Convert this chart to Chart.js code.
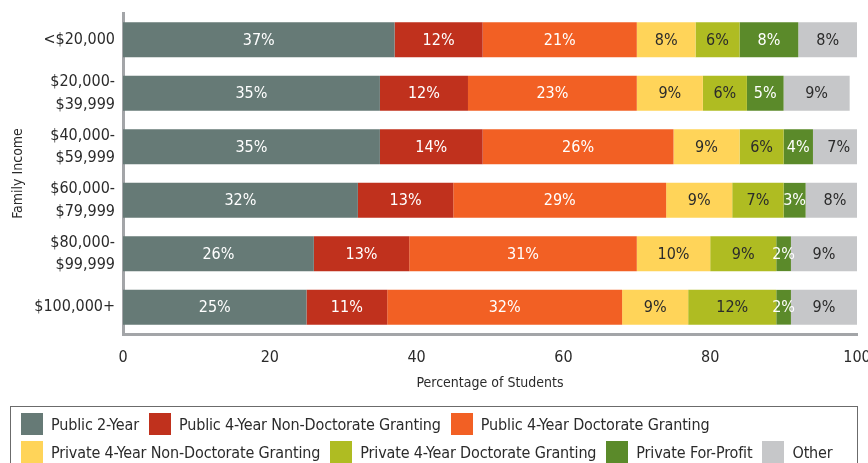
<!DOCTYPE html>
<html>
<head>
<meta charset="utf-8">
<script src="https://cdn.jsdelivr.net/npm/chart.js@4"></script>
<style>
  html, body { margin: 0; padding: 0; background: #fff; }
  #wrap { position: relative; width: 868px; height: 463px; overflow: hidden; }
  #legend {
    position: absolute;
    left: 10px;
    top: 406px;
    width: 848px;
    height: 80px;
    box-sizing: border-box;
    border: 1.5px solid #6b6b6b;
    padding: 6px 0 0 10px;
    display: flex;
    flex-wrap: wrap;
    align-content: flex-start;
    column-gap: 10px;
    row-gap: 6px;
    font-family: 'Liberation Sans Narrow', 'DejaVu Sans Condensed', 'Roboto', sans-serif;
    font-size: 16px;
    letter-spacing: -0.15px;
    color: #2b2b2b;
  }
  .item { display: flex; align-items: center; height: 22px; white-space: nowrap; }
  .swatch { width: 22px; height: 22px; margin-right: 8px; }
</style>
</head>
<body>
<div id="wrap">
  <canvas id="income-chart" width="868" height="463"></canvas>
  <div id="legend"></div>
</div>
<script>
// Income brackets (top to bottom) and x-axis ticks
const incomeLabels = [
  "<$20,000",
  ["$20,000-", "$39,999"],
  ["$40,000-", "$59,999"],
  ["$60,000-", "$79,999"],
  ["$80,000-", "$99,999"],
  "$100,000+"
];
const xTicks = [0, 20, 40, 60, 80, 100];

// Share of students (%) by sector
const public2Year = [37, 35, 35, 32, 26, 25];
const public4NonDoc = [12, 12, 14, 13, 13, 11];
const public4Doc = [21, 23, 26, 29, 31, 32];
const private4NonDoc = [8, 9, 9, 9, 10, 9];
const private4Doc = [6, 6, 6, 7, 9, 12];
const privateForProfit = [8, 5, 4, 3, 2, 2];
const otherSector = [8, 9, 7, 8, 9, 9];

const FONT = "'Liberation Sans Narrow', 'DejaVu Sans Condensed', 'Roboto', sans-serif";
const TEXT = "#2b2b2b";

const sectors = [
  { label: "Public 2-Year", data: public2Year, color: "#667a76", text: "#ffffff" },
  { label: "Public 4-Year Non-Doctorate Granting", data: public4NonDoc, color: "#c0311d", text: "#ffffff" },
  { label: "Public 4-Year Doctorate Granting", data: public4Doc, color: "#f26024", text: "#ffffff" },
  { label: "Private 4-Year Non-Doctorate Granting", data: private4NonDoc, color: "#ffd459", text: "#2b2b2b" },
  { label: "Private 4-Year Doctorate Granting", data: private4Doc, color: "#afbc22", text: "#2b2b2b" },
  { label: "Private For-Profit", data: privateForProfit, color: "#5b8a2a", text: "#ffffff" },
  { label: "Other", data: otherSector, color: "#c6c7c9", text: "#2b2b2b" }
];

// Legend box under the chart
const legendBox = document.getElementById("legend");
sectors.forEach((s) => {
  const item = document.createElement("div");
  item.className = "item";
  item.innerHTML = `<span class="swatch" style="background:${s.color}"></span>${s.label}`;
  legendBox.appendChild(item);
});

// Percent labels in the middle of each segment
const segmentLabels = {
  id: "segmentLabels",
  afterDatasetsDraw(chart) {
    const ctx = chart.ctx;
    ctx.save();
    ctx.font = "16px " + FONT;
    ctx.textAlign = "center";
    ctx.textBaseline = "middle";
    chart.data.datasets.forEach((ds, i) => {
      const meta = chart.getDatasetMeta(i);
      meta.data.forEach((bar, j) => {
        const x = (bar.x + bar.base) / 2;
        ctx.fillStyle = sectors[i].text;
        ctx.fillText(ds.data[j] + "%", x, bar.y + 1);
      });
    });
    ctx.restore();
  }
};

new Chart(document.getElementById("income-chart"), {
  type: "bar",
  data: {
    labels: incomeLabels,
    datasets: sectors.map((s) => ({
      label: s.label,
      data: s.data,
      backgroundColor: s.color,
      borderWidth: 0,
      categoryPercentage: 1,
      barPercentage: 0.65
    }))
  },
  options: {
    indexAxis: "y",
    responsive: false,
    animation: false,
    layout: { padding: { top: 13, left: 0, right: 11, bottom: 57 } },
    scales: {
      x: {
        stacked: true,
        min: 0,
        max: 100,
        afterBuildTicks: (scale) => {
          scale.ticks = xTicks.map((v) => ({ value: v }));
        },
        afterFit: (scale) => {
          scale.paddingRight = 0;
          scale.paddingLeft = 0;
          scale.height = 72;
        },
        grid: { display: false, drawTicks: false },
        border: { display: true, color: "#a3a5a8", width: 3 },
        ticks: { color: TEXT, padding: 14, font: { family: FONT, size: 16 } },
        title: {
          display: true,
          text: "Percentage of Students",
          color: TEXT,
          padding: { top: 0, bottom: 14 },
          font: { family: FONT, size: 14 }
        }
      },
      y: {
        stacked: true,
        afterFit: (scale) => {
          scale.width = 123;
          scale.paddingTop = 0;
          scale.paddingBottom = 0;
        },
        grid: { display: false, drawTicks: false },
        border: { display: true, color: "#a3a5a8", width: 3 },
        ticks: { color: TEXT, padding: 8, font: { family: FONT, size: 16, lineHeight: 1.4 } },
        title: {
          display: true,
          text: "Family Income",
          color: TEXT,
          padding: { top: 10, bottom: 0 },
          font: { family: FONT, size: 14 }
        }
      }
    },
    plugins: {
      tooltip: { enabled: false },
      legend: { display: false }
    }
  },
  plugins: [segmentLabels]
});
</script>
</body>
</html>
